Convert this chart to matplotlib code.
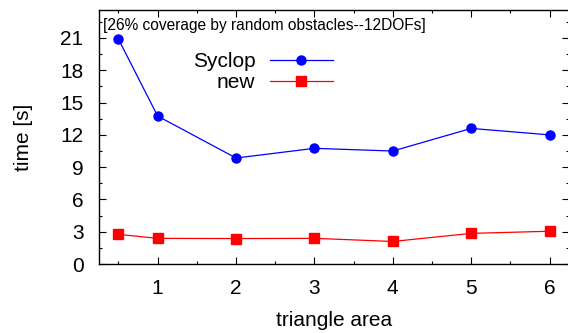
import numpy as np
import matplotlib.pyplot as plt
from matplotlib.ticker import MultipleLocator

plt.rcParams['font.family'] = ['Liberation Sans', 'DejaVu Sans']

# triangle area values and times [s]
area = [0.5, 1, 2, 3, 4, 5, 6]
syclop = [20.9, 13.75, 9.85, 10.75, 10.5, 12.6, 12.0]
new = [2.76, 2.39, 2.37, 2.39, 2.1, 2.85, 3.05]

fig = plt.figure(figsize=(5.68, 3.33), dpi=100)
ax = fig.add_axes([0.174, 0.207, 0.828, 0.763])

ax.plot(area, syclop, color='blue', lw=0.9, marker='o', ms=6.5, label='Syclop')
ax.plot(area, new, color='red', lw=0.9, marker='s', ms=7.5, label='new')

ax.set_xlim(0.25, 6.25)
ax.set_ylim(0, 23.6)
ax.xaxis.set_major_locator(MultipleLocator(1))
ax.xaxis.set_minor_locator(MultipleLocator(0.5))
ax.yaxis.set_major_locator(MultipleLocator(3))
ax.yaxis.set_minor_locator(MultipleLocator(1.5))
ax.set_xticks([1, 2, 3, 4, 5, 6])
ax.tick_params(which='both', direction='in', top=True, right=True,
               labelsize=15, width=0.8)
ax.tick_params(which='major', length=5, pad=11)
ax.tick_params(which='minor', length=2.5)
for s in ax.spines.values():
    s.set_linewidth(1.0)

ax.set_xlabel('triangle area', fontsize=15, labelpad=9)
ax.set_ylabel('time [s]', fontsize=15, labelpad=20)

ax.text(0.008, 0.94, '[26% coverage by random obstacles--12DOFs]',
        transform=ax.transAxes, ha='left', va='center', fontsize=11.2)

leg = ax.legend(loc='upper right', bbox_to_anchor=(0.497, 0.835), frameon=False,
                markerfirst=False, fontsize=15, handlelength=3.0,
                handletextpad=0.7, labelspacing=0.12, borderaxespad=0,
                borderpad=0)
for t in leg.get_texts():
    t.set_ha('right')
leg._legend_box.align = 'right'

fig.savefig('out.png', dpi=100)
